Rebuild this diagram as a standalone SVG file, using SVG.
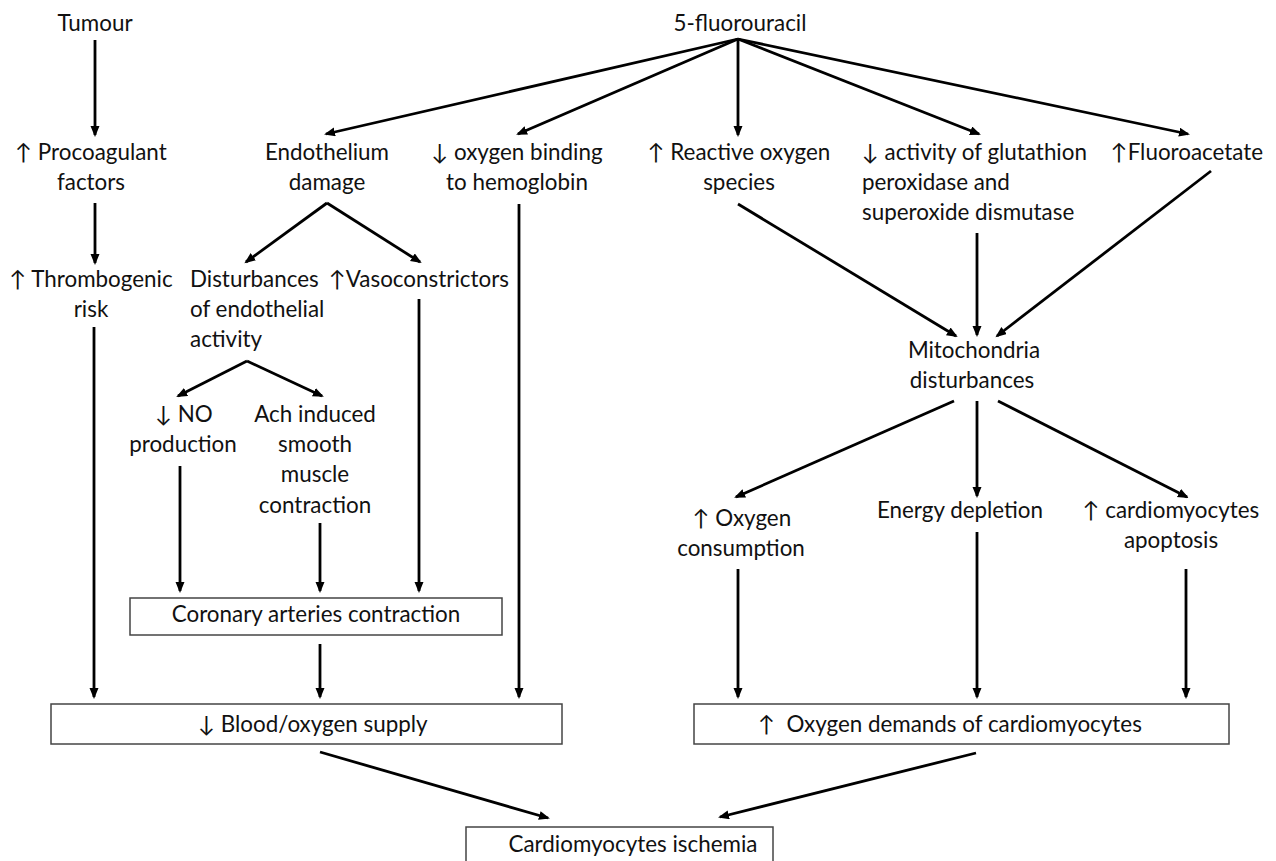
<svg xmlns="http://www.w3.org/2000/svg" width="1276" height="861" viewBox="0 0 1276 861">
<style>
text{font-family:Lato,"Noto Sans","DejaVu Sans",sans-serif;font-size:22.4px;fill:#111}
.c{text-anchor:middle}
.box{fill:#fff;stroke:#444;stroke-width:1.5}
.e line{stroke:#000;stroke-width:2.8}
.a{marker-end:url(#ah)}
</style>
<defs>
<marker id="ah" markerUnits="userSpaceOnUse" markerWidth="14" markerHeight="12" refX="9" refY="4.5" orient="auto">
<path d="M0,0 L11,4.5 L0,9 z" fill="#000"/>
</marker>
</defs>
<rect width="1276" height="861" fill="#fff"/>
<g id="edges" class="e">
<line class="a" x1="95" y1="40" x2="95" y2="135"/>
<line class="a" x1="95" y1="203" x2="95" y2="263"/>
<line class="a" x1="94" y1="327" x2="94" y2="697"/>
<line class="a" x1="738" y1="39" x2="326" y2="134"/>
<line class="a" x1="738" y1="39" x2="518" y2="134"/>
<line class="a" x1="738" y1="39" x2="738" y2="135"/>
<line class="a" x1="738" y1="39" x2="979" y2="134"/>
<line class="a" x1="738" y1="39" x2="1188" y2="134"/>
<line class="a" x1="327" y1="203" x2="246" y2="262"/>
<line class="a" x1="327" y1="203" x2="420" y2="262"/>
<line class="a" x1="519" y1="204" x2="519" y2="697"/>
<line class="a" x1="419" y1="299" x2="419" y2="591"/>
<line class="a" x1="247" y1="361" x2="178" y2="396"/>
<line class="a" x1="247" y1="361" x2="322" y2="396"/>
<line class="a" x1="180" y1="466" x2="180" y2="591"/>
<line class="a" x1="320" y1="523" x2="320" y2="591"/>
<line class="a" x1="320" y1="644" x2="320" y2="697"/>
<line class="a" x1="738" y1="204" x2="956" y2="336"/>
<line class="a" x1="977" y1="233" x2="977" y2="335"/>
<line class="a" x1="1211" y1="171" x2="997" y2="336"/>
<line class="a" x1="954" y1="401" x2="736" y2="497"/>
<line class="a" x1="977" y1="401" x2="977" y2="496"/>
<line class="a" x1="998" y1="401" x2="1187" y2="497"/>
<line class="a" x1="738" y1="569" x2="738" y2="697"/>
<line class="a" x1="977" y1="532" x2="977" y2="697"/>
<line class="a" x1="1186" y1="569" x2="1186" y2="697"/>
<line class="a" x1="320" y1="752" x2="548" y2="818"/>
<line class="a" x1="976" y1="753" x2="720" y2="817"/>
</g>
<g id="tumour"><text class="c" x="95" y="31">Tumour</text></g>
<g id="fu"><text class="c" x="740" y="31">5-fluorouracil</text></g>
<g id="procoag"><text class="c" y="160"><tspan x="91">↑ Procoagulant</tspan><tspan x="91" y="190">factors</tspan></text></g>
<g id="thromb"><text class="c" y="287"><tspan x="91">↑ Thrombogenic</tspan><tspan x="91" y="317">risk</tspan></text></g>
<g id="endo"><text class="c" y="160"><tspan x="327">Endothelium</tspan><tspan x="327" y="190">damage</tspan></text></g>
<g id="hemo"><text class="c" y="160"><tspan x="517">↓ oxygen binding</tspan><tspan x="517" y="190">to hemoglobin</tspan></text></g>
<g id="ros"><text class="c" y="160"><tspan x="739">↑ Reactive oxygen</tspan><tspan x="739" y="190">species</tspan></text></g>
<g id="glut"><text y="160"><tspan x="862">↓ activity of glutathion</tspan><tspan x="862" y="190">peroxidase and</tspan><tspan x="862" y="220">superoxide dismutase</tspan></text></g>
<g id="fluoro"><text class="c" x="1187" y="160">↑Fluoroacetate</text></g>
<g id="dist"><text y="287"><tspan x="190">Disturbances</tspan><tspan x="190" y="317">of endothelial</tspan><tspan x="190" y="347">activity</tspan></text></g>
<g id="vaso"><text class="c" x="419" y="287">↑Vasoconstrictors</text></g>
<g id="no"><text class="c" y="422"><tspan x="184">↓ NO</tspan><tspan x="183" y="452">production</tspan></text></g>
<g id="ach"><text class="c" y="422"><tspan x="315">Ach induced</tspan><tspan x="315" y="452">smooth</tspan><tspan x="315" y="482">muscle</tspan><tspan x="315" y="513">contraction</tspan></text></g>
<g id="coronary"><rect class="box" x="130" y="598" width="372" height="37"/><text class="c" x="316" y="622">Coronary arteries contraction</text></g>
<g id="mito"><text class="c" y="358"><tspan x="974">Mitochondria</tspan><tspan x="972" y="388">disturbances</tspan></text></g>
<g id="oxcons"><text class="c" y="526"><tspan x="742">↑ Oxygen</tspan><tspan x="741" y="556">consumption</tspan></text></g>
<g id="energy"><text class="c" x="960" y="518">Energy depletion</text></g>
<g id="apop"><text class="c" y="518"><tspan x="1171">↑ cardiomyocytes</tspan><tspan x="1171" y="548">apoptosis</tspan></text></g>
<g id="blood"><rect class="box" x="51" y="704" width="511" height="40"/><text class="c" x="313" y="732">↓ Blood/oxygen supply</text></g>
<g id="demand"><rect class="box" x="694" y="704" width="535" height="40"/><text class="c" x="950" y="732" xml:space="preserve">↑  Oxygen demands of cardiomyocytes</text></g>
<g id="ischemia"><rect class="box" x="466" y="827" width="307" height="50"/><text class="c" x="633" y="852">Cardiomyocytes ischemia</text></g>
</svg>
